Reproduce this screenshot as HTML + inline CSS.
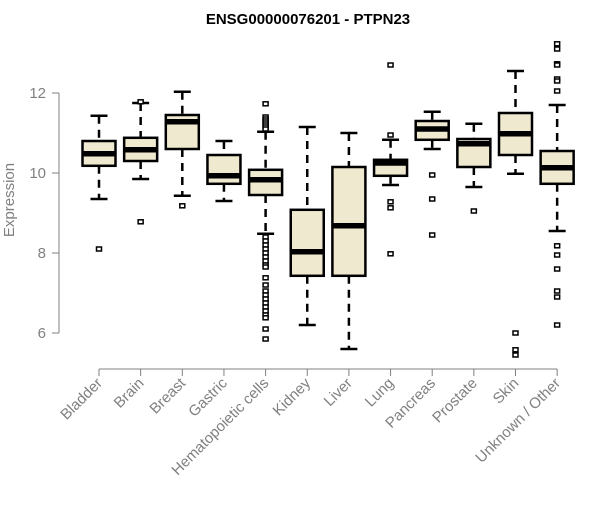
<!DOCTYPE html>
<html><head><meta charset="utf-8"><style>
body{margin:0;background:#fff;}
svg text{font-family:"Liberation Sans",Arial,sans-serif;}
</style></head><body>
<svg id="chart" width="600" height="500" xmlns="http://www.w3.org/2000/svg">
<text x="308" y="24" text-anchor="middle" font-size="15" font-weight="bold">ENSG00000076201 - PTPN23</text>
<text transform="translate(14,200) rotate(-90)" text-anchor="middle" font-size="15" fill="#808080">Expression</text>
<g id="axes"></g><g id="marks"></g>
</svg>
<script>
const categories=["Bladder","Brain","Breast","Gastric","Hematopoietic cells","Kidney","Liver","Lung","Pancreas","Prostate","Skin","Unknown / Other"];
const whiskerLow=[9.35,9.85,9.43,9.3,8.48,6.2,5.6,9.7,10.6,9.65,9.98,8.55];
const q1=[10.18,10.3,10.6,9.73,9.45,7.43,7.43,9.93,10.83,10.15,10.45,9.73];
const median=[10.48,10.58,11.28,9.93,9.83,8.03,8.68,10.25,11.1,10.73,10.98,10.13];
const q3=[10.8,10.88,11.45,10.45,10.08,9.08,10.15,10.33,11.3,10.85,11.5,10.55];
const whiskerHigh=[11.43,11.75,12.03,10.8,11.03,11.15,11.0,10.83,11.53,11.23,12.55,11.7];
const outliers=[[8.1],[11.78,8.78],[9.18],[],
[11.73,11.4,11.35,11.3,11.25,11.2,11.15,11.1,8.4,8.3,8.2,8.1,8.0,7.9,7.8,7.7,7.65,7.38,7.2,7.05,6.95,6.85,6.75,6.65,6.55,6.45,6.38,6.1,5.85],
[],[],[12.7,10.95,9.28,9.13,7.98],[9.95,9.35,8.45],[9.05],[6.0,5.58,5.45],
[13.23,13.1,12.73,12.7,12.35,12.3,12.05,8.18,7.95,7.6,7.05,6.9,6.2]];
const yTicks=[6,8,10,12];
const NS="http://www.w3.org/2000/svg";
const y=v=>333-(v-6)*40;
const x=i=>99+i*41.65;
function mk(tag,attrs,parent){const e=document.createElementNS(NS,tag);for(const k in attrs)e.setAttribute(k,attrs[k]);parent.appendChild(e);return e;}
const ax=document.getElementById('axes'),mg=document.getElementById('marks');
let e=mk('line',{x1:59,x2:59,y1:y(yTicks[0]),y2:y(yTicks[yTicks.length-1]),stroke:'#808080'},ax);

yTicks.forEach(t=>{let l=mk('line',{x1:52,x2:59,y1:y(t),y2:y(t),stroke:'#808080'},ax);

let tx=mk('text',{x:46,y:y(t)+5,'text-anchor':'end','font-size':15,fill:'#808080'},ax);tx.textContent=t;
});
e=mk('line',{x1:x(0),x2:x(categories.length-1),y1:369,y2:369,stroke:'#808080'},ax);

categories.forEach((c,i)=>{const cx=x(i);
let l=mk('line',{x1:cx,x2:cx,y1:369,y2:376,stroke:'#808080'},ax);

let tx=mk('text',{transform:`translate(${cx+4},${384}) rotate(-45)`,'text-anchor':'end','font-size':15,fill:'#808080'},ax);tx.textContent=c;

const g=mk('g',{},mg);


mk('line',{x1:cx,x2:cx,y1:y(whiskerHigh[i]),y2:y(q3[i]),stroke:'#000','stroke-width':2.5,'stroke-dasharray':'8,6'},g);
mk('line',{x1:cx,x2:cx,y1:y(q1[i]),y2:y(whiskerLow[i]),stroke:'#000','stroke-width':2.5,'stroke-dasharray':'8,6'},g);
mk('line',{x1:cx-8.5,x2:cx+8.5,y1:y(whiskerHigh[i]),y2:y(whiskerHigh[i]),stroke:'#000','stroke-width':2.5},g);
mk('line',{x1:cx-8.5,x2:cx+8.5,y1:y(whiskerLow[i]),y2:y(whiskerLow[i]),stroke:'#000','stroke-width':2.5},g);
mk('rect',{x:cx-16.5,y:y(q3[i]),width:33,height:y(q1[i])-y(q3[i]),fill:'#EFE9CF',stroke:'#000','stroke-width':2.5},g);
mk('line',{x1:cx-16.5,x2:cx+16.5,y1:y(median[i]),y2:y(median[i]),stroke:'#000','stroke-width':5.5},g);
outliers[i].forEach(v=>{let r=mk('rect',{x:cx-2.5,y:y(v)-2,width:5,height:4,fill:'#fff',stroke:'#000','stroke-width':1.5},g);
});
});
</script>
</body></html>
